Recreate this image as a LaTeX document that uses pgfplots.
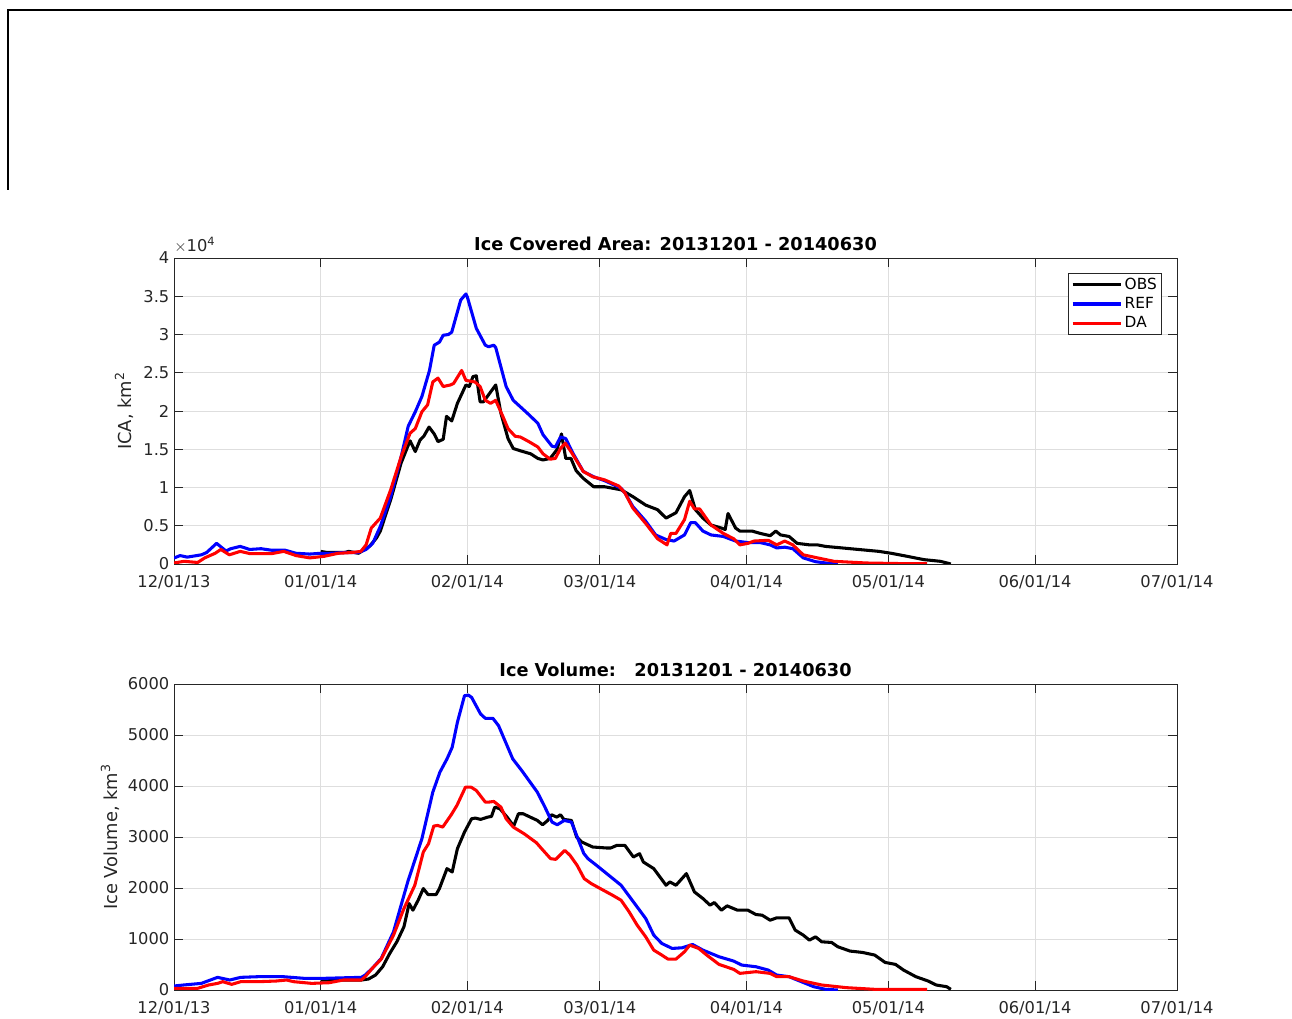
\documentclass[border=0pt]{standalone}
\usepackage{pgfplots}
\pgfplotsset{compat=1.18}
\usepackage{fontspec}
\setmainfont{DejaVu Sans}
\definecolor{axgray}{RGB}{38,38,38}
\definecolor{gridgray}{RGB}{222,222,222}
\pgfplotsset{
  mstyle/.style={
    scale only axis,
    width=752.25pt, height=229.5pt,
    xmin=0, xmax=212,
    xtick={0,31,62,90,121,151,182,212},
    xticklabels={12/01/13,01/01/14,02/01/14,03/01/14,04/01/14,05/01/14,06/01/14,07/01/14},
    tick align=inside,
    major tick length=7pt,
    axis line style={axgray, line width=0.6pt},
    every tick/.style={axgray, line width=0.6pt},
    grid=major,
    major grid style={gridgray, line width=0.6pt},
    tick label style={font=\fontsize{12.2}{14}\selectfont, text=axgray},
    label style={font=\fontsize{13.4}{15}\selectfont, text=axgray},
    title style={font=\fontsize{13.3}{15}\selectfont\bfseries, at={(axis description cs:0.5,1)}, anchor=base, yshift=-0.5pt},
    xticklabel style={yshift=-4.8pt},
    every axis plot/.append style={line width=2.3pt, line join=round, no markers},
    clip mode=individual,
  }
}
\begin{document}
\begin{tikzpicture}
\useasboundingbox (0,0) rectangle (969pt,763.5pt);
\draw[black, line width=1.9pt] (6pt,756pt) -- (969pt,756pt);
\draw[black, line width=1.1pt] (6pt,756.6pt) -- (6pt,621pt);

% ---------------- Top: Ice Covered Area ----------------
\begin{axis}[mstyle,
  at={(130.5pt,340.5pt)}, anchor=south west,
  ymin=0, ymax=4,
  ytick={0,0.5,1,1.5,2,2.5,3,3.5,4},
  yticklabels={0,0.5,1,1.5,2,2.5,3,3.5,4},
  title={Ice Covered Area: 20131201 - 20140630},
  ylabel={ICA, km\textsuperscript{2}},
  ylabel style={at={(axis description cs:-0.036,0.5)}, anchor=south},
  legend style={at={(axis description cs:0.985,0.951)}, anchor=north east,
    font=\fontsize{11.5}{13}\selectfont, draw=axgray, line width=0.6pt,
    inner sep=1.6pt, row sep=0.4pt, cells={anchor=west}, text=black},
  legend image code/.code={\draw[#1, line width=2.3pt] (0pt,0pt) -- (36pt,0pt);},
]
\addplot[black] coordinates {
(31,0.165)(32.4,0.15)(36.1,0.15)(36.9,0.165)(39,0.14)(41.3,0.23)(42.8,0.34)(43.6,0.43)
(45.8,0.84)(48,1.32)(49.1,1.49)(49.9,1.61)(51,1.47)(52,1.62)(52.8,1.67)(53.9,1.79)
(55,1.70)(55.8,1.60)(56.9,1.63)(57.6,1.93)(58.7,1.87)(59.9,2.1)(61.7,2.34)(62.4,2.32)
(63.2,2.45)(63.9,2.46)(64.7,2.12)(65.4,2.12)(68,2.34)(69.1,1.97)(70.6,1.64)(71.7,1.51)
(73.2,1.48)(75.4,1.44)(76.9,1.38)(78,1.36)(79.5,1.38)(80.9,1.49)(81.9,1.70)(82.8,1.38)
(83.9,1.38)(85,1.22)(86.5,1.12)(88.7,1.01)(91,1.01)(94.5,0.97)(97,0.88)(99.7,0.77)
(102.2,0.71)(104,0.60)(106.1,0.67)(107.9,0.88)(109,0.96)(110.2,0.71)(111.8,0.60)
(113.5,0.51)(115.7,0.47)(116.5,0.45)(117.1,0.66)(118.7,0.47)(119.6,0.43)(122.2,0.43)
(123.9,0.40)(126,0.37)(127.2,0.43)(128.2,0.38)(130,0.36)(131.7,0.27)(134.3,0.25)
(136,0.25)(137.7,0.23)(141.2,0.21)(146.4,0.18)(149,0.165)(151.6,0.14)(155,0.10)
(158.5,0.057)(162,0.035)(164.2,0)
};
\addlegendentry{OBS}
\addplot[blue] coordinates {
(0,0.078)(1.3,0.11)(2.8,0.09)(5.8,0.12)(6.9,0.15)(9,0.27)(11,0.17)(12,0.2)(14,0.23)
(16,0.19)(18.4,0.2)(20.6,0.18)(23.5,0.18)(25.8,0.14)(28.7,0.13)(31,0.14)(33,0.14)
(36,0.15)(39,0.15)(40.6,0.19)(42,0.27)(43.6,0.49)(45.8,0.88)(48,1.4)(49.5,1.8)
(51,1.99)(52.4,2.19)(54,2.53)(55,2.86)(56.1,2.9)(56.9,2.99)(58,3.0)(58.7,3.03)
(60.6,3.45)(61.7,3.53)(62,3.49)(63.9,3.08)(65.8,2.86)(66.5,2.84)(67.6,2.86)(68,2.83)
(70.2,2.32)(71.7,2.14)(74.7,1.97)(76.9,1.84)(78,1.69)(79.9,1.54)(80.6,1.53)(81.7,1.66)
(82.8,1.64)(84.3,1.45)(86.5,1.21)(88.7,1.14)(91,1.09)(94.5,0.99)(95.3,0.93)(97,0.75)
(99.7,0.56)(101.8,0.38)(104,0.32)(105.7,0.30)(107.9,0.38)(109.2,0.54)(110.2,0.54)
(111.8,0.43)(113.5,0.38)(116.1,0.36)(118.7,0.30)(121.3,0.28)(123.9,0.28)(126,0.25)
(127.4,0.21)(129.1,0.22)(130.8,0.20)(133,0.08)(135.6,0.03)(138.2,0.01)(140.3,0)
};
\addlegendentry{REF}
\addplot[red] coordinates {
(0,0.013)(2.1,0.035)(5,0.02)(6.5,0.08)(8.7,0.14)(9.9,0.19)(11.7,0.12)(14,0.165)
(16.1,0.135)(20.6,0.135)(23.2,0.165)(25.8,0.11)(28.7,0.08)(31.7,0.10)(34.7,0.14)
(37.6,0.15)(39.5,0.165)(40.6,0.25)(41.7,0.47)(43.6,0.60)(45.8,0.97)(48,1.40)(49.9,1.71)
(51,1.77)(52.4,1.99)(53.6,2.08)(54.7,2.38)(55.8,2.43)(56.9,2.32)(58.4,2.34)(59.1,2.36)
(60.8,2.53)(61.7,2.40)(63.6,2.38)(64.7,2.32)(65.8,2.14)(66.9,2.10)(68,2.14)(69.5,1.93)
(70.6,1.77)(72.1,1.67)(73.2,1.66)(75,1.60)(76.9,1.53)(78,1.44)(79.5,1.37)(80.6,1.38)
(81.7,1.51)(82.7,1.58)(83.9,1.47)(86.5,1.21)(88.5,1.14)(91,1.10)(94,1.02)(95.3,0.93)
(97,0.73)(99.7,0.53)(102.2,0.33)(104.2,0.25)(105,0.40)(106.1,0.40)(107.9,0.58)(109,0.82)
(110,0.72)(111.1,0.72)(113.5,0.51)(116.1,0.40)(118.3,0.33)(119.6,0.25)(121.3,0.27)
(122.6,0.30)(125.6,0.31)(127.4,0.25)(129.1,0.30)(130.8,0.25)(133,0.12)(136,0.08)
(139.5,0.035)(146.4,0.013)(155,0.004)(159.2,0.004)
};
\addlegendentry{DA}
\node[anchor=base west, inner sep=0pt, text=axgray, font=\fontsize{12.2}{14}\selectfont]
  at (axis description cs:0,1) [yshift=5pt] {$\times$10\textsuperscript{4}};
\end{axis}

% ---------------- Bottom: Ice Volume ----------------
\begin{axis}[mstyle,
  at={(130.5pt,21pt)}, anchor=south west,
  ymin=0, ymax=6000,
  ytick={0,1000,2000,3000,4000,5000,6000},
  yticklabels={0,1000,2000,3000,4000,5000,6000},
  title={Ice Volume:\ \ \ 20131201 - 20140630},
  ylabel={Ice Volume, km\textsuperscript{3}},
  ylabel style={at={(axis description cs:-0.050,0.5)}, anchor=south},
]
\addplot[black] coordinates {
(31,196)(32.9,196)(39.6,196)(41.1,215)(42.6,293)(44.1,456)(45.6,717)(47.1,945)(48.6,1239)
(49.7,1695)(50.5,1565)(51.6,1760)(52.7,1989)(53.7,1871)(55.4,1871)(56.1,1989)(57.7,2380)
(58.8,2315)(59.9,2771)(61.4,3097)(62.9,3358)(63.7,3371)(64.8,3345)(66.3,3390)(67.1,3403)
(67.8,3586)(68.9,3553)(70.4,3390)(71.8,3214)(72.8,3456)(73.8,3456)(75.3,3390)(76.8,3325)
(77.9,3240)(79,3325)(79.8,3436)(80.9,3390)(81.7,3436)(82.4,3345)(84,3325)(85.1,2999)
(86.2,2901)(88.5,2804)(91.5,2784)(92.3,2784)(93.6,2836)(95.3,2836)(97.1,2608)(98.4,2673)
(99.2,2510)(101.4,2380)(104,2054)(104.8,2119)(106.1,2054)(108.3,2282)(110,1923)(111.8,1793)
(113.3,1663)(114.2,1715)(115.7,1565)(116.9,1650)(119.1,1565)(121.3,1565)(123,1480)
(124.3,1467)(126,1369)(127.4,1415)(130,1415)(131.3,1174)(133,1076)(134.3,978)(135.6,1043)
(136.9,945)(139,932)(140.3,848)(142.9,763)(145.5,737)(148.1,685)(150.3,541)(152.5,502)
(154.2,391)(156.8,261)(159.4,176)(161.1,98)(163.3,65)(164.2,13)
};
\addplot[blue] coordinates {
(0,78)(2,98)(5.8,130)(7.7,196)(9.2,248)(11.8,196)(14.1,248)(17.8,261)(23.1,261)(27.6,228)
(31.4,228)(36.6,241)(39.6,248)(40.4,293)(41.9,424)(43.8,619)(46.4,1141)(49.4,2119)
(52.4,2967)(54.7,3879)(56.2,4271)(57.7,4531)(58.8,4760)(59.9,5249)(61.4,5770)(62.2,5783)
(62.9,5738)(64.8,5412)(65.8,5327)(67.4,5327)(68.6,5183)(70.1,4857)(71.6,4531)(73.5,4303)
(76.8,3879)(78.4,3586)(79.9,3293)(81,3240)(82.5,3325)(84,3293)(85.1,3032)(86.6,2680)
(87.5,2575)(89.3,2445)(91.9,2249)(94.5,2054)(97.1,1728)(99.7,1402)(101.4,1076)(103.1,913)
(105.3,815)(107.4,828)(109.6,893)(111.8,782)(115.2,652)(118.3,567)(120,489)(123,456)
(125.6,391)(127.4,293)(130,261)(132.6,163)(135.2,65)(137.7,13)(140.3,0)
};
\addplot[red] coordinates {
(0,33)(5,33)(7.3,98)(9.2,130)(10.3,163)(12.2,111)(14.1,163)(17.8,163)(21.6,176)(23.8,196)
(25.3,163)(29.1,130)(32.8,143)(35.8,196)(39.6,196)(40.4,261)(41.9,424)(43.8,606)(46.4,1076)
(48.6,1597)(50.9,2054)(52.7,2706)(53.8,2869)(54.9,3214)(55.7,3227)(56.8,3195)(58.6,3436)
(59.8,3619)(61.6,3977)(62.8,3977)(63.9,3912)(65.8,3684)(66.5,3684)(67.6,3697)(69.1,3586)
(70.2,3358)(71.7,3195)(74,3064)(76.6,2888)(77.7,2771)(79.6,2575)(80.7,2562)(82.6,2738)
(83.7,2641)(85.2,2445)(86.7,2184)(88.2,2086)(90.1,1989)(92.7,1858)(94.5,1760)(96.2,1532)
(97.9,1271)(99.7,1043)(101.4,782)(103.1,685)(104.4,606)(106.1,606)(107.9,750)(109,880)
(110.9,815)(112.6,685)(115.2,502)(118.3,404)(119.6,326)(123,359)(126,326)(127.4,261)
(130,261)(133,176)(136.9,98)(142.1,46)(148.1,13)(159.2,13)
};
\end{axis}
\end{tikzpicture}
\end{document}
